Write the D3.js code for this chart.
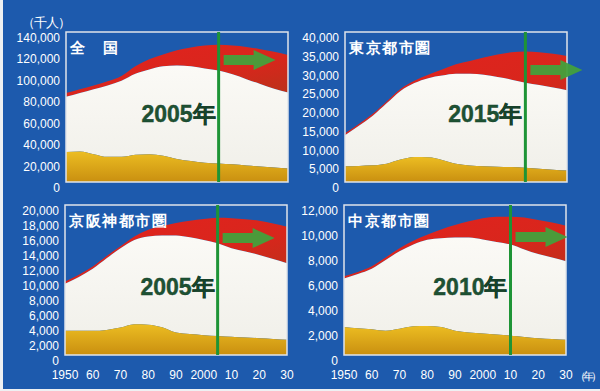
<!DOCTYPE html>
<html>
<head>
<meta charset="utf-8">
<script src="https://cdn.jsdelivr.net/npm/d3@7"></script>
<style>
  html, body { margin: 0; padding: 0; background: #eef0f2; }
  svg { display: block; }
  text { font-family: "Liberation Sans", Arial, sans-serif; }
</style>
</head>
<body>
<svg width="600" height="391"></svg>
<script>
const years = [1950, 1955, 1960, 1965, 1970, 1975, 1980, 1985, 1990, 1995, 2000, 2005, 2010, 2015, 2020, 2025, 2030];

// 全国 (千人)
const zenkokuTotal    = [83000, 86500, 90000, 94000, 99000, 108000, 114500, 119000, 123000, 125500, 127300, 128000, 127300, 126000, 124000, 121500, 118500];
const zenkokuUnder65  = [79500, 83000, 86500, 90000, 94500, 101000, 105000, 108000, 108800, 108000, 106000, 104000, 100500, 96000, 91500, 87000, 83500];
const zenkokuChildren = [28000, 28500, 26000, 23500, 23500, 25500, 26000, 24500, 21500, 19500, 18000, 17300, 16500, 15500, 14500, 13500, 12500];

// 東京都市圏
const tokyoTotal    = [13000, 15500, 18200, 21500, 24800, 27000, 28600, 30000, 31400, 32300, 33200, 34000, 34600, 34800, 34600, 34200, 33600];
const tokyoUnder65  = [12500, 15000, 17700, 21000, 24300, 26400, 27700, 28400, 28850, 28900, 28600, 28000, 27300, 26500, 25900, 25200, 24500];
const tokyoChildren = [4200, 4300, 4450, 4900, 6000, 6700, 6600, 5900, 4900, 4400, 4200, 4100, 4000, 3800, 3550, 3300, 3100];

// 京阪神都市圏
const keihanTotal    = [9800, 10700, 11800, 13200, 14500, 15800, 16700, 17200, 17600, 17900, 18150, 18300, 18250, 18100, 17900, 17550, 17100];
const keihanUnder65  = [9500, 10400, 11500, 12900, 14250, 15350, 15800, 15950, 15950, 15700, 15350, 14900, 14250, 13800, 13350, 12800, 12250];
const keihanChildren = [3220, 3220, 3230, 3350, 3660, 4100, 4050, 3700, 3000, 2800, 2650, 2550, 2450, 2350, 2250, 2150, 2030];

// 中京都市圏
const chukyoTotal    = [6300, 6650, 7100, 7800, 8550, 9150, 9620, 10050, 10400, 10700, 10950, 11070, 11070, 11000, 10800, 10600, 10350];
const chukyoUnder65  = [6120, 6480, 6900, 7600, 8300, 8850, 9220, 9350, 9400, 9400, 9250, 9050, 8850, 8450, 8080, 7800, 7500];
const chukyoChildren = [2250, 2150, 2070, 1950, 2100, 2300, 2330, 2250, 1950, 1800, 1720, 1650, 1550, 1450, 1350, 1280, 1220];

const titles = ['全　国', '東京都市圏', '京阪神都市圏', '中京都市圏'];
const peakYears = [2005, 2015, 2005, 2010];
const yMax = [140000, 40000, 20000, 12000];
const yStep = [20000, 5000, 2000, 2000];
const xTickYears = [1950, 1960, 1970, 1980, 1990, 2000, 2010, 2020, 2030];
const xTickLabels = ['1950', '60', '70', '80', '90', '2000', '10', '20', '30'];

const series = [
  [zenkokuTotal, zenkokuUnder65, zenkokuChildren],
  [tokyoTotal, tokyoUnder65, tokyoChildren],
  [keihanTotal, keihanUnder65, keihanChildren],
  [chukyoTotal, chukyoUnder65, chukyoChildren]
];

const frames = [
  { x: 66, y: 32 }, { x: 345, y: 32 },
  { x: 65, y: 205 }, { x: 344, y: 205 }
];
const pw = 222, ph = 150;

const svg = d3.select('svg');

// background
svg.append('rect').attr('x', 3).attr('y', 0).attr('width', 597).attr('height', 389).attr('fill', '#1d5aad');

const defs = svg.append('defs');
const redGrad = defs.append('linearGradient').attr('id', 'redGrad').attr('x1', 0).attr('y1', 0).attr('x2', 1).attr('y2', 1);
redGrad.append('stop').attr('offset', '0%').attr('stop-color', '#e3221f');
redGrad.append('stop').attr('offset', '60%').attr('stop-color', '#d8261c');
redGrad.append('stop').attr('offset', '100%').attr('stop-color', '#b8321a');
const goldGrad = defs.append('linearGradient').attr('id', 'goldGrad').attr('x1', 0).attr('y1', 0).attr('x2', 0).attr('y2', 1);
goldGrad.append('stop').attr('offset', '0%').attr('stop-color', '#ecbd22');
goldGrad.append('stop').attr('offset', '100%').attr('stop-color', '#c98f10');
const whiteGrad = defs.append('linearGradient').attr('id', 'whiteGrad').attr('x1', 0).attr('y1', 0).attr('x2', 0).attr('y2', 1);
whiteGrad.append('stop').attr('offset', '0%').attr('stop-color', '#fbfaf6');
whiteGrad.append('stop').attr('offset', '100%').attr('stop-color', '#f1f0ea');

// unit label
svg.append('text').attr('x', 22).attr('y', 27).attr('fill', '#fff')
  .attr('font-size', 13).attr('letter-spacing', -1)
  .attr('font-family', '"Noto Sans CJK JP", sans-serif').text('（千人）');

frames.forEach((f, i) => {
  const [total, under65, children] = series[i];
  const x = d3.scaleLinear().domain([1950, 2030]).range([f.x, f.x + pw]);
  const y = d3.scaleLinear().domain([0, yMax[i]]).range([f.y + ph, f.y]);
  const g = svg.append('g');

  const clipId = 'clip' + i;
  defs.append('clipPath').attr('id', clipId).append('rect')
    .attr('x', f.x).attr('y', f.y).attr('width', pw).attr('height', ph);
  const plot = g.append('g').attr('clip-path', `url(#${clipId})`);

  const curve = d3.curveMonotoneX;
  const redArea = d3.area().curve(curve)
    .x((d, j) => x(years[j])).y0((d, j) => y(under65[j])).y1(d => y(d));
  const whiteArea = d3.area().curve(curve)
    .x((d, j) => x(years[j])).y0((d, j) => y(children[j])).y1(d => y(d));
  const goldArea = d3.area().curve(curve)
    .x((d, j) => x(years[j])).y0(y(0)).y1(d => y(d));

  plot.append('path').attr('d', redArea(total)).attr('fill', 'url(#redGrad)');
  plot.append('path').attr('d', whiteArea(under65)).attr('fill', 'url(#whiteGrad)');
  plot.append('path').attr('d', goldArea(children)).attr('fill', 'url(#goldGrad)');

  // frame
  g.append('rect').attr('x', f.x).attr('y', f.y).attr('width', pw).attr('height', ph)
    .attr('fill', 'none').attr('stroke', '#dfe4ea').attr('stroke-width', 1.5);

  // y tick labels
  const ticks = d3.range(0, yMax[i] + 1, yStep[i]);
  g.selectAll('.ytick').data(ticks).enter().append('text')
    .attr('x', f.x - 6).attr('y', d => y(d) + 10)
    .attr('text-anchor', 'end').attr('fill', '#fff').attr('font-size', 12)
    .text(d => d3.format(',')(d));

  // x tick labels (bottom row)
  if (i >= 2) {
    g.selectAll('.xtick').data(xTickYears).enter().append('text')
      .attr('x', d => x(d)).attr('y', f.y + ph + 24)
      .attr('text-anchor', 'middle').attr('fill', '#fff').attr('font-size', 12)
      .text((d, j) => xTickLabels[j]);
  }

  // title
  g.append('text').attr('x', f.x + 4).attr('y', f.y + 21)
    .attr('fill', '#fff').attr('font-size', 15).attr('font-weight', 'bold')
    .attr('letter-spacing', 1.5)
    .attr('font-family', '"Noto Sans CJK JP", sans-serif')
    .text(titles[i]);

  // peak year line
  const px = x(peakYears[i]);
  g.append('line').attr('x1', px).attr('x2', px).attr('y1', f.y).attr('y2', f.y + ph)
    .attr('stroke', '#1e9436').attr('stroke-width', 3);

  g.append('text').attr('x', px - 3).attr('y', f.y + 90)
    .attr('text-anchor', 'end').attr('fill', '#1d5233')
    .attr('font-size', 23).attr('font-weight', 'bold')
    .attr('stroke', '#16402a').attr('stroke-width', 0.4)
    .text(peakYears[i] + '年');

  // arrow
  const ay = [f.y + 28, f.y + 38, f.y + 33, f.y + 32][i];
  const ax0 = px + 5, ax1 = px + 57, head = 22, sh = 5, hh = 10;
  const arrow = d3.path();
  arrow.moveTo(ax0, ay - sh);
  arrow.lineTo(ax1 - head, ay - sh);
  arrow.lineTo(ax1 - head, ay - hh);
  arrow.lineTo(ax1, ay);
  arrow.lineTo(ax1 - head, ay + hh);
  arrow.lineTo(ax1 - head, ay + sh);
  arrow.lineTo(ax0, ay + sh);
  arrow.closePath();
  g.append('path').attr('d', arrow.toString()).attr('fill', '#43a03c').attr('opacity', 0.95);
});

// unit for x axis
svg.append('text').attr('x', 575).attr('y', 380).attr('fill', '#fff')
  .attr('font-size', 11).attr('letter-spacing', -3)
  .attr('font-family', '"Noto Sans CJK JP", sans-serif').text('（年）');
</script>
</body>
</html>
